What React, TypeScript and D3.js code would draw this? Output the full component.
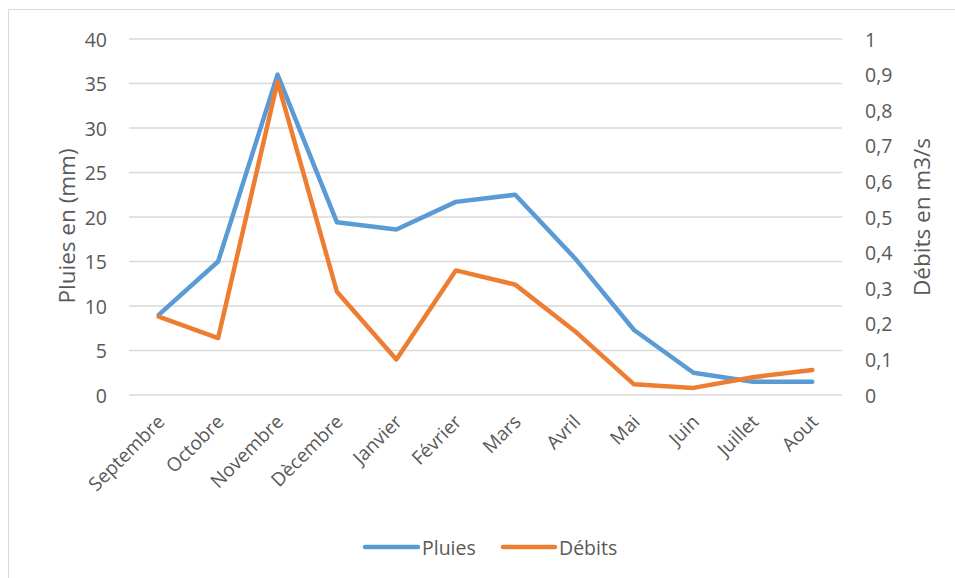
import React from "react";
import * as d3 from "d3";

const months = ["Septembre", "Octobre", "Novembre", "Dècembre", "Janvier", "Février", "Mars", "Avril", "Mai", "Juin", "Juillet", "Aout"];
const pluies = [9.0, 15.0, 36.0, 19.4, 18.6, 21.7, 22.5, 15.4, 7.3, 2.5, 1.5, 1.5];
const debits = [0.22, 0.16, 0.88, 0.29, 0.10, 0.35, 0.31, 0.18, 0.03, 0.02, 0.05, 0.07];
const leftTicks = [0, 5, 10, 15, 20, 25, 30, 35, 40];
const rightTicks = [0, 0.1, 0.2, 0.3, 0.4, 0.5, 0.6, 0.7, 0.8, 0.9, 1];

const W = 955, H = 578;
const plot = { left: 129, right: 842, top: 39, bottom: 395 };
const FONT = "'Open Sans', 'Noto Sans', sans-serif";
const TXT = "#595959";
const BLUE = "#5b9bd5";
const ORANGE = "#ed7d31";

export default function App() {
  const x = d3.scaleBand<string>().domain(months).range([plot.left, plot.right]);
  const yL = d3.scaleLinear().domain([0, 40]).range([plot.bottom, plot.top]);
  const yR = d3.scaleLinear().domain([0, 1]).range([plot.bottom, plot.top]);
  const cx = (m: string) => (x(m) as number) + x.bandwidth() / 2;

  const lineP = d3.line<number>().x((_, i) => cx(months[i])).y((d) => yL(d));
  const lineD = d3.line<number>().x((_, i) => cx(months[i])).y((d) => yR(d));
  const fmtR = (v: number) => (v === 0 || v === 1 ? String(v) : d3.format(".1f")(v).replace(".", ","));

  return (
    <svg width={W} height={H} style={{ position: "absolute", left: 0, top: 0, background: "#fff" }} fontFamily={FONT}>
      <rect x={0} y={0} width={W} height={H} fill="#fff" />
      <rect x={8.5} y={9.5} width={W + 10} height={H + 10} fill="none" stroke="#d9d9d9" strokeWidth={1} />
      {leftTicks.map((t) => (
        <line key={"g" + t} x1={plot.left} x2={plot.right} y1={yL(t)} y2={yL(t)} stroke="#d9d9d9" strokeWidth={1.3} />
      ))}
      {leftTicks.map((t) => (
        <text key={"l" + t} x={107} y={yL(t)} textAnchor="end" dominantBaseline="central" fontSize={19.5} fill={TXT}>
          {t}
        </text>
      ))}
      {rightTicks.map((t) => (
        <text key={"r" + t} x={865} y={yR(t)} textAnchor="start" dominantBaseline="central" fontSize={19.5} fill={TXT}>
          {fmtR(t)}
        </text>
      ))}
      <text transform={`translate(66,226) rotate(-90)`} textAnchor="middle" dominantBaseline="central" fontSize={22.5} fill={TXT}>
        Pluies en (mm)
      </text>
      <text transform={`translate(921,217) rotate(-90)`} textAnchor="middle" dominantBaseline="central" fontSize={22.5} fill={TXT}>
        Débits en m3/s
      </text>
      {months.map((m) => (
        <text key={m} transform={`translate(${cx(m) + 7},${423}) rotate(-45)`} textAnchor="end" fontSize={19} fill={TXT}>
          {m}
        </text>
      ))}
      <path d={lineP(pluies) || ""} fill="none" stroke={BLUE} strokeWidth={4.5} strokeLinejoin="round" strokeLinecap="round" />
      <path d={lineD(debits) || ""} fill="none" stroke={ORANGE} strokeWidth={4.5} strokeLinejoin="round" strokeLinecap="round" />
      <g>
        <line x1={365} x2={418} y1={547} y2={547} stroke={BLUE} strokeWidth={4.5} strokeLinecap="round" />
        <text x={422} y={547} dominantBaseline="central" fontSize={19.5} fill={TXT}>Pluies</text>
        <line x1={503} x2={555} y1={547} y2={547} stroke={ORANGE} strokeWidth={4.5} strokeLinecap="round" />
        <text x={559} y={547} dominantBaseline="central" fontSize={19.5} fill={TXT}>Débits</text>
      </g>
    </svg>
  );
}
